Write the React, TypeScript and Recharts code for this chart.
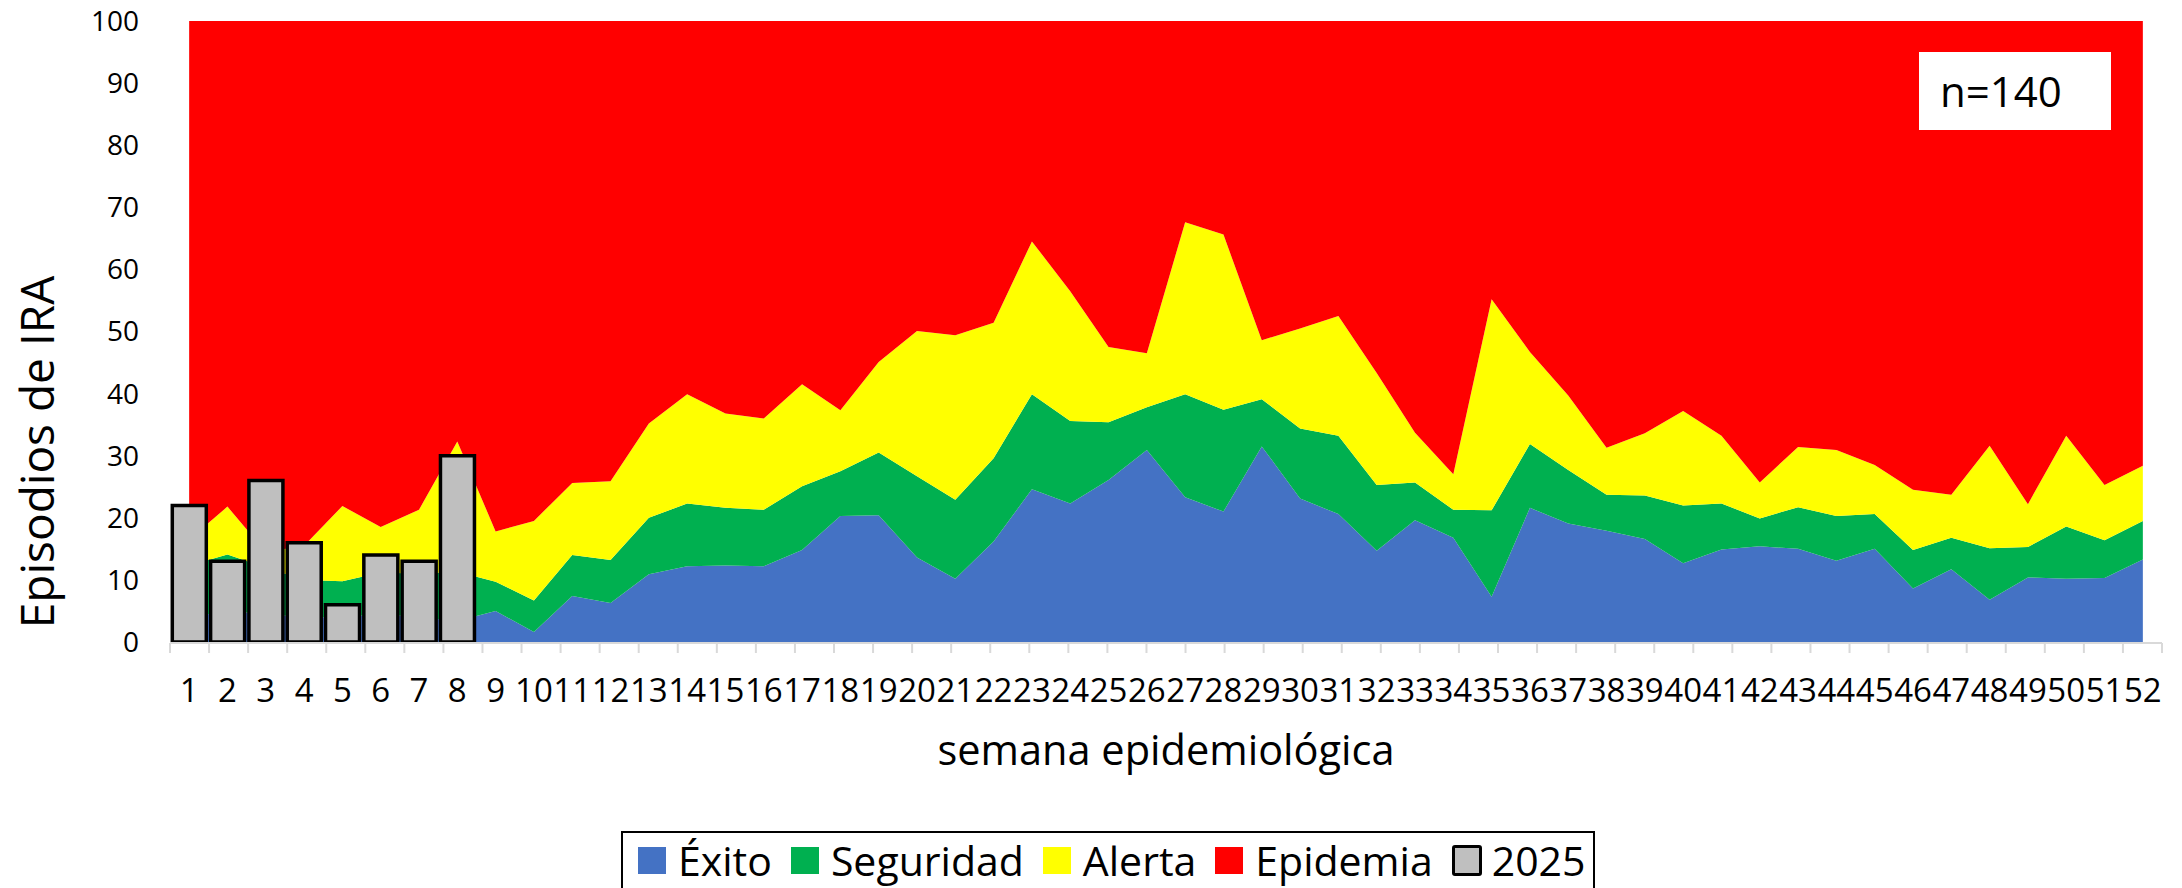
import React from "react";
import {
  ComposedChart,
  Area,
  Bar,
  XAxis,
  YAxis,
  Legend,
  Label,
} from "recharts";

// semanas epidemiológicas 1..52
const weeks = Array.from({ length: 52 }, (_, i) => String(i + 1));

// límites superiores de cada zona del canal endémico (valores acumulados)
const exitoTop = [
  4, 5, 4.5, 4, 4, 4.5, 4, 3.4, 5.0, 1.6,
  7.4, 6.3, 10.9, 12.2, 12.3, 12.2, 14.8, 20.3, 20.4, 13.6,
  10.2, 16.2, 24.6, 22.3, 26.1, 30.9, 23.3, 21.0, 31.5, 23.1,
  20.6, 14.7, 19.6, 16.8, 7.3, 21.6, 19.1, 17.9, 16.6, 12.7,
  14.9, 15.4, 15.0, 13.1, 15.0, 8.6, 11.7, 6.8, 10.4, 10.2,
  10.3, 13.3,
];

const seguridadTop = [
  12.3, 14.1, 12, 10, 9.8, 11.2, 11, 11.3, 9.7, 6.7,
  14.0, 13.2, 20.0, 22.3, 21.6, 21.3, 25.1, 27.5, 30.5, 26.7,
  22.9, 29.6, 39.9, 35.6, 35.4, 37.8, 39.9, 37.4, 39.1, 34.4,
  33.2, 25.3, 25.7, 21.3, 21.2, 31.9, 27.7, 23.7, 23.6, 22.0,
  22.3, 19.9, 21.7, 20.3, 20.6, 14.8, 16.8, 15.1, 15.3, 18.6,
  16.4, 19.5,
];

const alertaTop = [
  16.5, 21.8, 14.5, 15.5, 21.9, 18.5, 21.3, 32.3, 17.8, 19.5,
  25.6, 25.9, 35.2, 39.9, 36.8, 36.0, 41.5, 37.3, 45.1, 50.1,
  49.4, 51.4, 64.5, 56.5, 47.5, 46.5, 67.6, 65.6, 48.6, 50.5,
  52.5, 43.3, 33.7, 27.0, 55.2, 46.7, 39.7, 31.3, 33.6, 37.2,
  33.2, 25.7, 31.4, 30.9, 28.5, 24.5, 23.7, 31.6, 22.2, 33.2,
  25.3, 28.4,
];

const epidemiaTop = 100;

// episodios de IRA 2025
const casos2025 = [22, 13, 26, 16, 6, 14, 13, 30];

const yTicks = [0, 10, 20, 30, 40, 50, 60, 70, 80, 90, 100];
const boundaryTicks = Array.from({ length: weeks.length + 1 }, (_, i) => i);

const SERIES = [
  { key: "exito", name: "Éxito", color: "#4472C4" },
  { key: "seguridad", name: "Seguridad", color: "#00B050" },
  { key: "alerta", name: "Alerta", color: "#FFFF00" },
  { key: "epidemia", name: "Epidemia", color: "#FF0000" },
];

const chartData = weeks.map((week, i) => ({
  week,
  exito: exitoTop[i],
  seguridad: seguridadTop[i] - exitoTop[i],
  alerta: alertaTop[i] - seguridadTop[i],
  epidemia: epidemiaTop - alertaTop[i],
  c2025: i < casos2025.length ? casos2025[i] : null,
}));

function renderLegend() {
  return (
    <div
      style={{
        boxSizing: "border-box",
        width: 974,
        height: 64,
        borderTop: "2px solid #000",
        borderLeft: "2px solid #000",
        borderRight: "2px solid #000",
        background: "#fff",
      }}
    >
      <div
        style={{
          height: 54,
          display: "flex",
          alignItems: "center",
          paddingLeft: 15,
          fontSize: 41,
          lineHeight: 1,
          color: "#000",
        }}
      >
        {SERIES.map((s) => (
          <div key={s.key} style={{ display: "flex", alignItems: "center", marginRight: 19 }}>
            <div style={{ width: 28, height: 27, background: s.color, marginRight: 12 }} />
            <span>{s.name}</span>
          </div>
        ))}
        <div style={{ display: "flex", alignItems: "center" }}>
          <div
            style={{
              boxSizing: "border-box",
              width: 30,
              height: 31,
              background: "#BFBFBF",
              border: "3px solid #000",
              borderRadius: 3,
              marginRight: 10,
            }}
          />
          <span>2025</span>
        </div>
      </div>
    </div>
  );
}

export default function App() {
  return (
    <div
      style={{
        position: "absolute",
        left: 0,
        top: 0,
        width: 2182,
        height: 888,
        overflow: "hidden",
        background: "#fff",
        fontFamily: "'Open Sans', sans-serif",
      }}
    >
      <ComposedChart
        width={2182}
        height={888}
        data={chartData}
        margin={{ top: 21, right: 20, bottom: 244, left: 0 }}
        barCategoryGap={2.3}
      >
        <XAxis
          xAxisId="cat"
          dataKey="week"
          height={1}
          interval={0}
          axisLine={false}
          tickLine={false}
          tickSize={0}
          tickMargin={37}
          tick={{ fontSize: 33, fill: "#000" }}
        >
          <Label
            value="semana epidemiológica"
            position="insideTop"
            offset={94}
            fontSize={41.5}
            fill="#000"
          />
        </XAxis>
        <XAxis
          xAxisId="ticks"
          type="number"
          domain={[0, weeks.length]}
          allowDataOverflow
          ticks={boundaryTicks}
          interval={0}
          height={1}
          tickFormatter={() => ""}
          tickSize={10}
          axisLine={{ stroke: "#D9D9D9", strokeWidth: 2 }}
          tickLine={{ stroke: "#D9D9D9", strokeWidth: 2 }}
        />
        <YAxis
          width={170}
          domain={[0, 100]}
          ticks={yTicks}
          interval={0}
          axisLine={false}
          tickLine={false}
          tickSize={0}
          tickMargin={31}
          tick={{ fontSize: 28, fill: "#000" }}
        >
          <Label
            value="Episodios de IRA"
            position="center"
            angle={-90}
            dx={-47}
            dy={120.5}
            fontSize={46}
            fill="#000"
          />
        </YAxis>
        {SERIES.map((s) => (
          <Area
            key={s.key}
            xAxisId="cat"
            type="linear"
            dataKey={s.key}
            name={s.name}
            stackId="canal"
            stroke="none"
            fill={s.color}
            fillOpacity={1}
            dot={false}
            activeDot={false}
            isAnimationActive={false}
          />
        ))}
        <Bar
          xAxisId="cat"
          dataKey="c2025"
          name="2025"
          fill="#BFBFBF"
          stroke="#000"
          strokeWidth={3.5}
          isAnimationActive={false}
        />
        <Legend
          layout="horizontal"
          verticalAlign="middle"
          align="center"
          content={renderLegend}
          wrapperStyle={{ position: "absolute", left: 621, top: 831, width: 974, height: 64 }}
        />
      </ComposedChart>
      <div
        style={{
          position: "absolute",
          left: 1919,
          top: 52,
          width: 192,
          height: 78,
          boxSizing: "border-box",
          background: "#fff",
          display: "flex",
          alignItems: "center",
          paddingLeft: 21,
          fontSize: 42,
          lineHeight: 1,
          color: "#000",
        }}
      >
        n=140
      </div>
    </div>
  );
}
